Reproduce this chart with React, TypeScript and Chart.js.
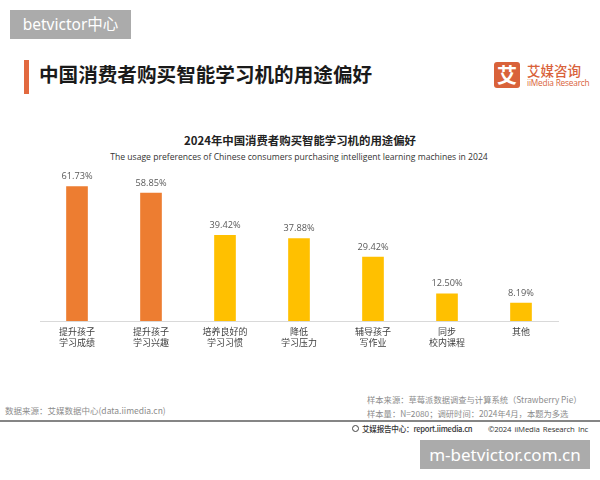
import React, { useEffect, useRef } from "react";
import { Chart, registerables } from "chart.js";

Chart.register(...registerables);

// Usage preferences (% of respondents, multiple choice)
const categories: string[][] = [
  ["提升孩子", "学习成绩"],
  ["提升孩子", "学习兴趣"],
  ["培养良好的", "学习习惯"],
  ["降低", "学习压力"],
  ["辅导孩子", "写作业"],
  ["同步", "校内课程"],
  ["其他"],
];
const shares: number[] = [61.73, 58.85, 39.42, 37.88, 29.42, 12.5, 8.19];
const highlightedCount = 2;

const ORANGE = "#ED7D31";
const YELLOW = "#FFC000";
const BRAND = "#D9623A";
const CJK = '"Noto Sans CJK SC", "Noto Sans", sans-serif';
const LATIN = '"Open Sans", "Noto Sans CJK SC", sans-serif';

const valueLabels = {
  id: "valueLabels",
  afterDatasetsDraw(chart: Chart) {
    const { ctx } = chart;
    const meta = chart.getDatasetMeta(0);
    ctx.save();
    ctx.font = `9.2px ${LATIN}`;
    ctx.fillStyle = "#595959";
    ctx.textAlign = "center";
    ctx.textBaseline = "middle";
    meta.data.forEach((bar: any, i: number) => {
      const v = chart.data.datasets[0].data[i] as number;
      ctx.fillText(`${v.toFixed(2)}%`, bar.x, bar.y - 10);
    });
    ctx.restore();
  },
};

function UsageChart() {
  const ref = useRef<HTMLCanvasElement | null>(null);
  useEffect(() => {
    if (!ref.current) return;
    const chart = new Chart(ref.current, {
      type: "bar",
      data: {
        labels: categories,
        datasets: [
          {
            data: shares,
            backgroundColor: (c: any) => (c.dataIndex < highlightedCount ? ORANGE : YELLOW),
            barThickness: 21,
            borderWidth: 0,
          },
        ],
      },
      options: {
        responsive: false,
        animation: false,
        layout: { padding: { left: 40, right: 42, top: 8.7, bottom: 19 } },
        plugins: {
          legend: { display: false },
          tooltip: { enabled: false },
          title: { display: false },
        },
        scales: {
          x: {
            grid: { display: false, drawTicks: false },
            border: { display: true, color: "#D9D9D9", width: 1 },
            ticks: {
              padding: 5,
              color: "#404040",
              font: { family: CJK, size: 9, lineHeight: 1.22 },
              maxRotation: 0,
              autoSkip: false,
            },
            afterFit: (s: any) => {
              s.height = 30;
            },
          },
          y: {
            display: false,
            min: 0,
            max: 70,
          },
        },
      },
      plugins: [valueLabels],
    });
    return () => chart.destroy();
  }, []);
  return (
    <canvas
      ref={ref}
      width={600}
      height={210}
      style={{ position: "absolute", left: 0, top: 160, width: 600, height: 210 }}
    />
  );
}

const abs = (left: number, top: number, extra: React.CSSProperties = {}): React.CSSProperties => ({
  position: "absolute",
  left,
  top,
  whiteSpace: "nowrap",
  ...extra,
});

export default function App() {
  return (
    <div
      style={{
        position: "fixed",
        left: 0,
        top: 0,
        width: 600,
        height: 480,
        background: "#ffffff",
        overflow: "hidden",
        fontFamily: CJK,
      }}
    >
      {/* site tag, top left */}
      <div
        style={abs(10, 10, {
          width: 121,
          height: 29,
          background: "#ABABAB",
          color: "#fff",
          fontFamily: '"Noto Sans", "Noto Sans CJK SC", sans-serif',
          fontSize: 15.5,
          lineHeight: "29px",
          textAlign: "center",
        })}
      >
        betvictor中心
      </div>

      {/* page heading */}
      <div style={abs(24, 60, { width: 5, height: 34, background: "#E2693F" })} />
      <div
        style={abs(39, 62, {
          fontSize: 19.6,
          lineHeight: "24px",
          fontWeight: 700,
          color: "#1A1A1A",
        })}
      >
        中国消费者购买智能学习机的用途偏好
      </div>

      {/* brand mark */}
      <div
        style={abs(494, 62, {
          width: 26,
          height: 26,
          borderRadius: 3,
          background: BRAND,
          color: "#fff",
          fontSize: 20,
          fontWeight: 700,
          lineHeight: "26px",
          textAlign: "center",
        })}
      >
        艾
      </div>
      <div style={abs(527, 61, { fontSize: 13.5, lineHeight: "18px", fontWeight: 500, color: BRAND })}>
        艾媒咨询
      </div>
      <div
        style={abs(527, 77, {
          fontSize: 8.3,
          lineHeight: "12px",
          color: BRAND,
          fontFamily: LATIN,
          letterSpacing: -0.2,
        })}
      >
        iiMedia Research
      </div>

      {/* chart titles */}
      <div
        style={abs(0, 132, {
          width: 600,
          textAlign: "center",
          fontSize: 11.4,
          lineHeight: "16px",
          fontWeight: 700,
          color: "#222",
        })}
      >
        2024年中国消费者购买智能学习机的用途偏好
      </div>
      <div
        style={abs(0, 151, {
          width: 598,
          textAlign: "center",
          fontSize: 8.6,
          lineHeight: "12px",
          color: "#333",
          fontFamily: LATIN,
        })}
      >
        The usage preferences of Chinese consumers purchasing intelligent learning machines in 2024
      </div>

      <UsageChart />

      {/* sources */}
      <div style={abs(367, 393, { fontSize: 8.3, lineHeight: "12px", color: "#8C8C8C" })}>
        样本来源：草莓派数据调查与计算系统（Strawberry Pie）
      </div>
      <div style={abs(367, 407, { fontSize: 8.3, lineHeight: "12px", color: "#8C8C8C" })}>
        样本量：N=2080；调研时间：2024年4月，本题为多选
      </div>
      <div style={abs(5, 404, { fontSize: 8.5, lineHeight: "12px", color: "#8C8C8C" })}>
        数据来源：艾媒数据中心(data.iimedia.cn)
      </div>
      <div style={abs(0, 420, { width: 600, height: 2, background: "#858585" })} />

      {/* report footer */}
      <div
        style={abs(352, 425, {
          width: 7,
          height: 7,
          borderRadius: "50%",
          border: "1px solid #444",
          boxSizing: "border-box",
        })}
      />
      <div
        style={abs(362, 423, {
          fontSize: 7.6,
          lineHeight: "12px",
          color: "#333",
          fontWeight: 500,
          letterSpacing: -0.25,
        })}
      >
        艾媒报告中心：report.iimedia.cn
      </div>
      <div
        style={{
          position: "absolute",
          right: 12,
          top: 423,
          whiteSpace: "nowrap",
          fontSize: 7.8,
          lineHeight: "12px",
          color: "#333",
          fontWeight: 500,
          fontFamily: LATIN,
          letterSpacing: -0.2,
          wordSpacing: 1.5,
        }}
      >
        ©2024 iiMedia Research Inc
      </div>

      {/* site tag, bottom right */}
      <div
        style={abs(420, 440, {
          width: 170,
          height: 29,
          background: "#ABABAB",
          color: "#fff",
          fontFamily: '"Noto Sans", "Noto Sans CJK SC", sans-serif',
          fontSize: 17,
          lineHeight: "29px",
          textAlign: "center",
        })}
      >
        m-betvictor.com.cn
      </div>
    </div>
  );
}
